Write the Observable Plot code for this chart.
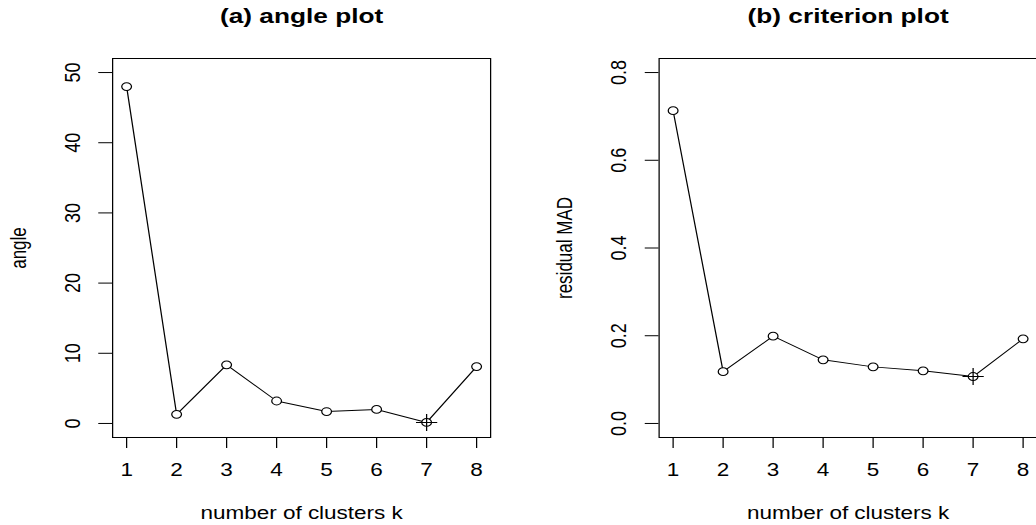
<!DOCTYPE html>
<html>
<head>
<meta charset="utf-8">
<script src="https://cdn.jsdelivr.net/npm/d3@7"></script>
<script src="https://cdn.jsdelivr.net/npm/@observablehq/plot@0.6"></script>
<style>
  html, body { margin: 0; padding: 0; background: #fff; overflow: hidden; }
  #wrap { width: 1036px; height: 525px; overflow: hidden; }
  #stretch { display: flex; width: 828.8px; height: 525px; transform: scaleX(1.25); transform-origin: 0 0; }
  #stretch svg { flex: none; }
</style>
</head>
<body>
<div id="wrap"><div id="stretch"></div></div>
<script>
// ---- data ----
const k = [1, 2, 3, 4, 5, 6, 7, 8];
const angle = [48.0, 1.3, 8.35, 3.2, 1.7, 2.0, 0.15, 8.1];
const residualMAD = [0.713, 0.118, 0.199, 0.145, 0.129, 0.120, 0.107, 0.193];
const chosenK = [7];
const kTicks = [1, 2, 3, 4, 5, 6, 7, 8];
const angleTicks = [0, 10, 20, 30, 40, 50];
const madTicks = [0, 0.2, 0.4, 0.6, 0.8];
const titles = ["(a) angle plot", "(b) criterion plot"];
const yLabels = ["angle", "residual MAD"];
const xLabel = "number of clusters k";

// custom "+" symbol drawn as two strokes (like R pch = 3)
const plusSymbol = {
  draw(context, size) {
    const r = Math.sqrt(size / Math.PI);
    context.moveTo(-r, 0); context.lineTo(r, 0);
    context.moveTo(0, -r); context.lineTo(0, r);
  }
};

const FONT = "'Liberation Sans', Arial, Helvetica, sans-serif";

function panel({values, yDomain, yTicks, yFormat, title, yLabel, width, marginLeft, marginRight}) {
  const rows = k.map((kk, i) => ({k: kk, v: values[i]}));
  const chosen = rows.filter(d => chosenK.includes(d.k));
  return Plot.plot({
    width, height: 525,
    marginTop: 58, marginBottom: 88, marginLeft, marginRight,
    style: {fontFamily: FONT, fontSize: "18px", color: "black", background: "white", overflow: "visible"},
    x: {domain: [0.72, 8.28]},
    y: {domain: yDomain},
    marks: [
      Plot.axisX({ticks: kTicks, tickSize: 11, tickPadding: 15, tickFormat: d => String(d), fontSize: 18, label: null, stroke: "black", color: "black"}),
      Plot.axisY({ticks: yTicks, tickSize: 11, tickFormat: () => "", label: null, stroke: "black"}),
      Plot.text(yTicks, {y: d => d, frameAnchor: "left", dx: -32, rotate: -90, text: d => yFormat(d), fontSize: 18, textAnchor: "middle", lineAnchor: "middle", fill: "black"}),
      Plot.frame({stroke: "black", strokeWidth: 1}),
      Plot.line(rows, {x: "k", y: "v", stroke: "black", strokeWidth: 1}),
      Plot.dot(rows, {x: "k", y: "v", r: 3.9, stroke: "black", strokeWidth: 1, fill: "white"}),
      Plot.dot(chosen, {x: "k", y: "v", r: 8.5, symbol: plusSymbol, stroke: "black", strokeWidth: 1, fill: "none"}),
      Plot.text([title], {frameAnchor: "top", dy: -42, text: d => d, fontSize: 21, fontWeight: "bold", lineAnchor: "middle", fill: "black"}),
      Plot.text([xLabel], {frameAnchor: "bottom", dy: 76, text: d => d, fontSize: 18, lineAnchor: "middle", fill: "black"}),
      Plot.text([yLabel], {frameAnchor: "left", dx: -75, rotate: -90, text: d => d, fontSize: 17, textAnchor: "middle", lineAnchor: "middle", fill: "black"})
    ]
  });
}

const container = document.getElementById("stretch");
container.append(panel({
  values: angle, yDomain: [-2, 52], yTicks: angleTicks, yFormat: d3.format("d"),
  title: titles[0], yLabel: yLabels[0], width: 414.4, marginLeft: 89.6, marginRight: 22.4
}));
container.append(panel({
  values: residualMAD, yDomain: [-0.032, 0.832], yTicks: madTicks, yFormat: d3.format(".1f"),
  title: titles[1], yLabel: yLabels[1], width: 415.2, marginLeft: 112.8, marginRight: 0
}));
</script>
</body>
</html>
